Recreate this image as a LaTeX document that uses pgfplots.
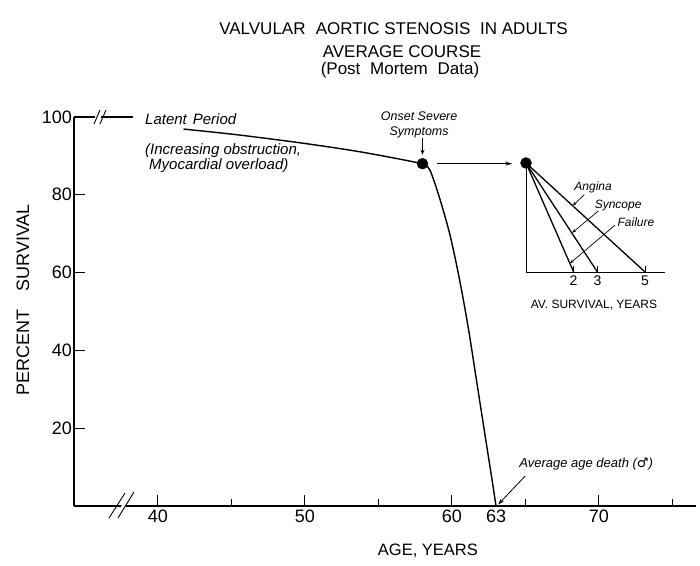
\documentclass[border=0pt]{standalone}
\usepackage{fontspec}
\setmainfont{Liberation Sans}
\newfontfamily\dejavu{DejaVu Sans}
\usepackage{pgfplots}
\usepackage{pgfplotstable}
\pgfplotsset{compat=1.18}
\usetikzlibrary{arrows.meta}

\pgfplotstableread{
age surv
41.75 96.9
45.46 95.4
49.8 93.3
53.36 91.3
56.0 89.5
58.0 88.0
}\latent
\pgfplotstableread{
age surv
58.0 88.0
58.5 86.4
59.2 78.7
59.9 69.2
60.57 57.2
61.14 45.2
61.7 31.6
62.27 17.8
62.73 6.7
63.0 0
}\severe

\begin{document}
\begin{tikzpicture}
\begin{axis}[
  at={(0pt,0pt)}, anchor=south west,
  scale only axis, width=622pt, height=389pt,
  xmin=34.3, xmax=76.6, ymin=0, ymax=100,
  axis x line*=bottom, axis y line*=left,
  axis line style={line width=1.1pt},
  xtick={40,50,60,70}, minor xtick={45,55,65,75},
  extra x ticks={63}, extra x tick style={major tick length=0pt},
  ytick={20,40,60,80,100},
  tick align=inside,
  major tick length=11pt, minor tick length=7pt,
  every tick/.style={line width=1.0pt, black},
  /pgf/number format/assume math mode=true,
  tick label style={font=\fontsize{18}{18}\selectfont},
  yticklabel style={xshift=1.5pt},
  xlabel={AGE, YEARS}, ylabel={PERCENT\hspace{1em}SURVIVAL},
  xlabel style={at={(axis description cs:0.569,-0.116)}, anchor=center, font=\fontsize{16.5}{16.5}\selectfont},
  ylabel style={at={(axis description cs:-0.082,0.530)}, anchor=center, font=\fontsize{18}{18}\selectfont},
  clip=false,
]
\addplot[black, line width=1.3pt] coordinates {(34.3,100) (35.75,100)};
\addplot[black, line width=1.3pt] coordinates {(36.15,100) (38.3,100)};
\addplot[black, line width=1.4pt, smooth] table[x=age,y=surv]{\latent};
\addplot[black, line width=1.4pt, smooth] table[x=age,y=surv]{\severe};
\addplot[only marks, mark=*, mark size=5.5pt, black] coordinates {(58.0,88.0)};

\node[font=\fontsize{15}{15}\selectfont\itshape, anchor=west] at (axis cs:38.9,99.4) {Latent\hspace{0.4em}Period};
\node[font=\fontsize{15}{14.5}\selectfont\itshape, anchor=north west, align=left] at (axis cs:38.9,94.0) {(Increasing obstruction,\\\hspace{4pt}Myocardial overload)};
\node[font=\fontsize{12.5}{15}\selectfont\itshape, align=center] at (axis cs:57.77,98.07) {Onset Severe\\Symptoms};
\draw[-{Stealth[length=5pt,width=4pt]}, line width=0.8pt] (axis cs:58.0,94.6) -- (axis cs:58.0,90.3);
\draw[-{Stealth[length=7pt,width=4pt]}, line width=0.9pt] (axis cs:59.0,88.0) -- (axis cs:64.1,88.0);
\node[font=\fontsize{13}{13}\selectfont\itshape] at (axis cs:69.13,10.8) {Average age death ({\dejavu ♂})};
\draw[-{Stealth[length=6pt,width=4pt]}, line width=0.8pt] (axis cs:64.98,7.7) -- (axis cs:63.15,0.4);
\end{axis}

\begin{axis}[
  at={(452pt,234pt)}, anchor=south west,
  scale only axis, width=139pt, height=109pt,
  xmin=0, xmax=5.84, ymin=0, ymax=1,
  axis x line*=bottom, axis y line*=left,
  axis line style={line width=1.0pt},
  xtick={2,3,5}, ytick=\empty,
  tick align=inside, major tick length=6pt,
  every tick/.style={line width=0.9pt, black},
  /pgf/number format/assume math mode=true,
  tick label style={font=\fontsize{14}{14}\selectfont},
  xlabel={AV. SURVIVAL, YEARS},
  xlabel style={at={(axis description cs:0.489,-0.303)}, anchor=center, font=\fontsize{12}{12}\selectfont},
  clip=false,
]
\addplot[black, line width=1.3pt] coordinates {(0,1) (2,0)};
\addplot[black, line width=1.3pt] coordinates {(0,1) (3,0)};
\addplot[black, line width=1.3pt] coordinates {(0,1) (5,0)};
\addplot[only marks, mark=*, mark size=5.5pt, black] coordinates {(0,1)};
\node[font=\fontsize{12}{12}\selectfont\itshape] at (axis cs:2.82,0.78) {Angina};
\node[font=\fontsize{12}{12}\selectfont\itshape] at (axis cs:3.87,0.606) {Syncope};
\node[font=\fontsize{12}{12}\selectfont\itshape] at (axis cs:4.62,0.459) {Failure};
\draw[-{Stealth[length=4pt,width=3pt]}, line width=0.7pt] (axis cs:2.45,0.71) -- (axis cs:1.97,0.61);
\draw[-{Stealth[length=4pt,width=3pt]}, line width=0.7pt] (axis cs:3.04,0.56) -- (axis cs:1.94,0.36);
\draw[-{Stealth[length=4pt,width=3pt]}, line width=0.7pt] (axis cs:3.74,0.43) -- (axis cs:1.85,0.08);
\end{axis}

% axis breaks
\fill[white] (40pt,-12pt) -- (44pt,-12pt) -- (60pt,14pt) -- (56pt,14pt) -- cycle;
\draw[line width=0.9pt] (35pt,-12pt) -- (51pt,13pt);
\draw[line width=0.9pt] (44pt,-12pt) -- (60pt,14pt);
\draw[line width=0.9pt] (20pt,382pt) -- (26pt,396pt);
\draw[line width=0.9pt] (26pt,382pt) -- (32pt,396pt);

% titles
\node[font=\fontsize{17}{17}\selectfont] at (319.5pt,477.7pt) {VALVULAR\hspace{0.6em}AORTIC STENOSIS\hspace{0.3em} IN ADULTS};
\node[font=\fontsize{17}{17}\selectfont] at (328pt,454.3pt) {AVERAGE COURSE};
\node[font=\fontsize{17}{17}\selectfont] at (326pt,436pt) {(Post\hspace{0.3em} Mortem\hspace{0.3em} Data)};

\pgfresetboundingbox
\path[use as bounding box] (-74pt,-59pt) rectangle (626pt,506pt);
\end{tikzpicture}
\end{document}
